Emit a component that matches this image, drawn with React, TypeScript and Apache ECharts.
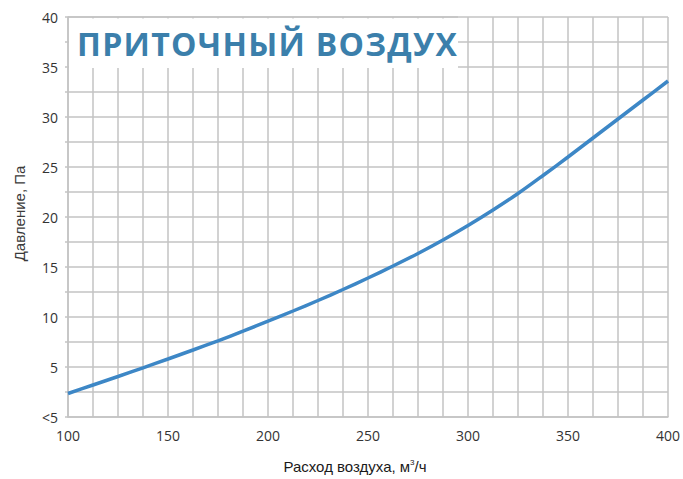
import React, { useEffect, useRef } from "react";
import * as echarts from "echarts";

const flowValues = [100, 112.5, 125, 137.5, 150, 162.5, 175, 187.5, 200, 212.5, 225, 237.5, 250, 262.5, 275, 287.5, 300, 312.5, 325, 337.5, 350, 362.5, 375, 387.5, 400];
const pressureValues = [2.35, 3.2, 4.05, 4.92, 5.8, 6.7, 7.62, 8.58, 9.58, 10.6, 11.65, 12.75, 13.9, 15.1, 16.35, 17.7, 19.15, 20.7, 22.35, 24.15, 26.0, 27.9, 29.8, 31.7, 33.6];
const xTickLabels = ["100", "150", "200", "250", "300", "350", "400"];
const yTickLabels = ["<5", "5", "10", "15", "20", "25", "30", "35", "40"];
const titleText = "ПРИТОЧНЫЙ ВОЗДУХ";
const xAxisName = "Расход воздуха, м{sup|3}/ч";
const yAxisName = "Давление, Па";

export default function App() {
  const ref = useRef<HTMLDivElement>(null);
  useEffect(() => {
    if (!ref.current) return;
    const chart = echarts.init(ref.current, null, { renderer: "svg" });
    const grid = "#c3c3c3";

    // title letters with letter spacing
    const canvas = document.createElement("canvas");
    const ctx = canvas.getContext("2d")!;
    ctx.font = "bold 32px 'Open Sans'";
    const spacing = 1.3;
    let cx = 77;
    const titleChars: any[] = [];
    for (const ch of titleText) {
      titleChars.push({
        type: "text",
        x: cx,
        y: 43.5,
        z: 12,
        style: {
          text: ch,
          fontFamily: "Open Sans",
          fontWeight: "bold",
          fontSize: 32,
          fill: "#3b7fab",
          verticalAlign: "middle",
        },
      });
      cx += ctx.measureText(ch).width + spacing;
    }

    chart.setOption({
      animation: false,
      backgroundColor: "#ffffff",
      grid: { left: 68, right: 15, top: 17, bottom: 61, show: false },
      xAxis: {
        type: "value",
        min: 100,
        max: 400,
        interval: 12.5,
        name: xAxisName,
        nameLocation: "middle",
        nameGap: 41,
        nameTextStyle: {
          fontFamily: "Liberation Sans",
          fontSize: 15,
          color: "#1a1a1a",
          padding: [0, 26, 0, 0],
          rich: {
            sup: { fontFamily: "Liberation Sans", fontSize: 8, color: "#1a1a1a", verticalAlign: "top", padding: [0, 0, 9, 0] },
          },
        },
        axisLine: { show: true, lineStyle: { color: grid, width: 1.5 } },
        axisTick: { show: false },
        splitLine: { show: true, lineStyle: { color: grid, width: 1.5 } },
        axisLabel: {
          fontFamily: "Open Sans",
          fontSize: 14,
          color: "#333333",
          margin: 11,
          formatter: (v: number) => {
            const i = Math.round((v - 100) / 50);
            return Math.abs(v - 100 - i * 50) < 1e-6 ? xTickLabels[i] : "";
          },
        },
      },
      yAxis: {
        type: "value",
        min: 0,
        max: 40,
        interval: 2.5,
        name: yAxisName,
        nameLocation: "middle",
        nameGap: 41,
        nameTextStyle: { fontFamily: "Liberation Sans", fontSize: 15, color: "#3a3a3a", padding: [0, 0, 0, 7] },
        axisLine: { show: true, lineStyle: { color: grid, width: 1.5 } },
        axisTick: { show: true, length: 3, lineStyle: { color: grid, width: 1.5 } },
        splitLine: { show: true, lineStyle: { color: grid, width: 1.5 } },
        axisLabel: {
          fontFamily: "Open Sans",
          fontSize: 14,
          color: "#333333",
          margin: 10,
          formatter: (v: number) => {
            const i = Math.round(v / 5);
            return Math.abs(v - i * 5) < 1e-6 ? yTickLabels[i] : "";
          },
        },
      },
      series: [
        {
          type: "line",
          data: flowValues.map((x, i) => [x, pressureValues[i]]),
          smooth: 0.3,
          showSymbol: false,
          lineStyle: { color: "#3d87c6", width: 3.5 },
          z: 3,
        },
      ],
      graphic: [
        {
          type: "rect",
          shape: { x: 69, y: 18.5, width: 389, height: 49.5 },
          style: { fill: "#ffffff" },
          z: 10,
        },
        {
          type: "line",
          shape: { x1: 68, y1: 17, x2: 458, y2: 17 },
          style: { stroke: grid, lineWidth: 1.5 },
          z: 11,
        },
        ...titleChars,
      ],
    });
    return () => chart.dispose();
  }, []);
  return <div ref={ref} style={{ position: "fixed", left: 0, top: 0, width: 683, height: 479 }} />;
}
